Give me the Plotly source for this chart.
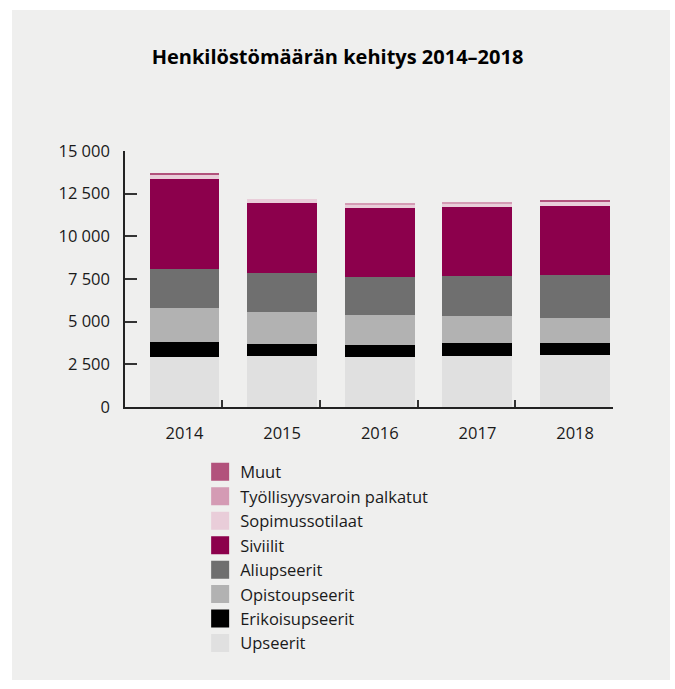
import plotly.graph_objects as go

# Henkilöstömäärä vuosittain ja henkilöstöryhmittäin
years = [2014, 2015, 2016, 2017, 2018]

upseerit = [2920, 2975, 2915, 2975, 3035]
erikoisupseerit = [875, 705, 705, 760, 705]
opistoupseerit = [1990, 1875, 1755, 1580, 1465]
aliupseerit = [2285, 2285, 2225, 2345, 2520]
siviilit = [5285, 4100, 4040, 4040, 4040]
sopimussotilaat = [295, 235, 235, 235, 295]
tyollisyysvaroin = [0, 0, 60, 60, 0]
muut = [45, 0, 0, 0, 60]

series_names = [
    "Upseerit", "Erikoisupseerit", "Opistoupseerit", "Aliupseerit",
    "Siviilit", "Sopimussotilaat", "Työllisyysvaroin palkatut", "Muut",
]
series_values = [
    upseerit, erikoisupseerit, opistoupseerit, aliupseerit,
    siviilit, sopimussotilaat, tyollisyysvaroin, muut,
]
series_colors = [
    "#e0e0e0", "#000000", "#b2b2b2", "#6f6f6f",
    "#8c004c", "#e9cdd9", "#d49bb4", "#b2527c",
]

y_ticks = [0, 2500, 5000, 7500, 10000, 12500, 15000]

PANEL = "#efefee"
TEXT = "#1a1a1a"
FONT = "Open Sans"

fig = go.Figure()

for name, vals, col in zip(series_names, series_values, series_colors):
    fig.add_trace(go.Bar(
        x=years, y=vals, name=name, width=0.716,
        marker=dict(color=col, line=dict(width=0)),
        showlegend=False, legendgroup=name,
    ))
    # square swatch for the legend entry
    fig.add_trace(go.Scatter(
        x=[None], y=[None], mode="markers", name=name, legendgroup=name,
        marker=dict(symbol="square", size=16, color=col,
                    line=dict(color=col, width=2)),
        showlegend=True,
    ))

fig.update_layout(
    width=675, height=689,
    margin=dict(l=125, r=62, t=151, b=282),
    paper_bgcolor="white",
    plot_bgcolor="rgba(0,0,0,0)",
    barmode="stack",
    separators=", ",
    font=dict(family=FONT, size=16.5, color=TEXT),
    title=dict(
        text="<b>Henkilöstömäärän kehitys 2014–2018</b>",
        x=0.5, xanchor="center", xref="container",
        y=1 - 57 / 689, yanchor="middle", yref="container",
        font=dict(family=FONT, size=20, color="#000000"),
    ),
    legend=dict(
        x=0.154, xanchor="left", y=-0.186, yanchor="top",
        traceorder="reversed", bgcolor="rgba(0,0,0,0)",
        font=dict(family=FONT, size=16.5, color=TEXT),
        itemclick=False, itemdoubleclick=False,
    ),
    shapes=[dict(
        type="rect", xref="paper", yref="paper", layer="below",
        x0=-113 / 488, x1=1 + 57 / 488,
        y0=-273 / 256, y1=1 + 141 / 256,
        fillcolor=PANEL, line=dict(width=0),
    )],
)

fig.update_xaxes(
    range=[2013.391, 2018.388],
    tickmode="array", tickvals=years, ticktext=[str(y) for y in years],
    ticks="", showgrid=False, zeroline=False,
    showline=True, linecolor="#222222", linewidth=1.5,
    ticklabelstandoff=10,
    minor=dict(
        tickmode="array", tickvals=[y + 0.389 for y in years],
        ticks="inside", ticklen=7, tickwidth=1.5, tickcolor="#333333",
        showgrid=False,
    ),
)

fig.update_yaxes(
    range=[0, 15000],
    tickmode="array", tickvals=y_ticks, tickformat=",d",
    ticks="inside", ticklen=12, tickwidth=1.5, tickcolor="#333333",
    showgrid=False, zeroline=False,
    showline=True, linecolor="#222222", linewidth=1.5,
    ticklabelstandoff=10,
)

fig.write_html("out.html")
